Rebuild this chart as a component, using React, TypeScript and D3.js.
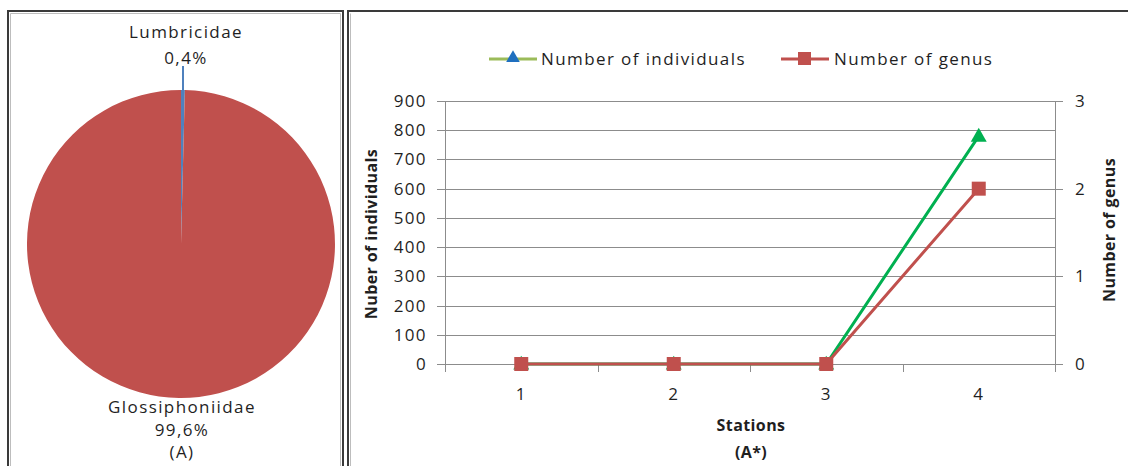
import React from "react";
import * as d3 from "d3";

const pieLabels = ["Glossiphoniidae", "Lumbricidae"];
const pieValues = [99.6, 0.4];
const pieText = ["99,6%", "0,4%"];

const stations = ["1", "2", "3", "4"];
const individuals = [0, 0, 0, 780];
const genus = [0, 0, 0, 2];
const leftTicks = [0, 100, 200, 300, 400, 500, 600, 700, 800, 900];
const rightTicks = [0, 1, 2, 3];

const W = 1128;
const H = 466;
const FONT = "'Open Sans', Lato, sans-serif";
const TXT = "#1f1f1f";
const RED = "#C0504D";
const GREEN = "#00B050";
const BLUE = "#4F81BD";
const FS = 17;
const LS = 1.4;

export default function App() {
  const cx = 181, cy = 244, R = 154;
  const pieGen = d3.pie<number>().sort(null).startAngle(0).endAngle(2 * Math.PI);
  const arcs = pieGen([pieValues[1], pieValues[0]]);
  const arcGen = d3.arc<d3.PieArcDatum<number>>().innerRadius(0).outerRadius(R);

  const x0 = 445, x1 = 1055, yTop = 101, yBot = 364;
  const xBand = d3.scaleBand<string>().domain(stations).range([x0, x1]).padding(0);
  const xc = (s: string) => (xBand(s) as number) + xBand.bandwidth() / 2;
  const yL = d3.scaleLinear().domain([0, 900]).range([yBot, yTop]);
  const yR = d3.scaleLinear().domain([0, 3]).range([yBot, yTop]);
  const lineL = d3.line<number>().x((_, i) => xc(stations[i])).y((d) => yL(d));
  const lineR = d3.line<number>().x((_, i) => xc(stations[i])).y((d) => yR(d));
  const tri = d3.symbol().type(d3.symbolTriangle).size(110)();
  const triLeg = d3.symbol().type(d3.symbolTriangle).size(80)();
  const bounds = [...stations.map((s) => xBand(s) as number), x1];

  return (
    <svg width={W} height={H} style={{ position: "absolute", left: 0, top: 0, background: "#fff" }}
      fontFamily={FONT}>
      <rect width={W} height={H} fill="#fff" />
      <g stroke="#3a3a3a" strokeWidth={2} fill="none">
        <path d={`M8,${H} V11 H343 V${H}`} />
        <path d={`M348,${H} V11 H${W}`} />
      </g>
      <g stroke="#bdbdbd" strokeWidth={1} fill="none">
        <path d={`M10.5,${H} V13.5 H340.5 V${H}`} />
        <path d={`M350.5,${H} V13.5`} />
      </g>

      <g transform={`translate(${cx},${cy})`}>
        {arcs.map((a, i) => (
          <path key={i} d={arcGen(a) as string} fill={i === 0 ? BLUE : RED} />
        ))}
      </g>
      <line x1={183} x2={183} y1={66} y2={cy - R + 2} stroke={BLUE} strokeWidth={2} />
      <g fill={TXT} fontSize={FS} textAnchor="middle" letterSpacing={LS}>
        <text x={186} y={38}>{pieLabels[1]}</text>
        <text x={186} y={64}>{pieText[1]}</text>
        <text x={182} y={413}>{pieLabels[0]}</text>
        <text x={182} y={436}>{pieText[0]}</text>
        <text x={182} y={458}>(A)</text>
      </g>

      <g stroke="#8c8c8c" strokeWidth={1}>
        {leftTicks.map((t) => (
          <line key={t} x1={x0 - 8} x2={x1} y1={Math.round(yL(t)) + 0.5} y2={Math.round(yL(t)) + 0.5} />
        ))}
        {rightTicks.map((t) => (
          <line key={"r" + t} x1={x1} x2={x1 + 8} y1={Math.round(yR(t)) + 0.5} y2={Math.round(yR(t)) + 0.5} />
        ))}
        <line x1={x0 + 0.5} x2={x0 + 0.5} y1={yTop} y2={yBot + 8} />
        <line x1={x1 + 0.5} x2={x1 + 0.5} y1={yTop} y2={yBot + 8} />
        {bounds.map((b, i) => (
          <line key={"b" + i} x1={Math.round(b) + 0.5} x2={Math.round(b) + 0.5} y1={yBot} y2={yBot + 8} />
        ))}
      </g>
      <g fill={TXT} fontSize={FS} letterSpacing={LS}>
        {leftTicks.map((t) => (
          <text key={t} x={x0 - 18} y={yL(t) + 6} textAnchor="end">{t}</text>
        ))}
        {rightTicks.map((t) => (
          <text key={t} x={x1 + 20} y={yR(t) + 6} textAnchor="start">{t}</text>
        ))}
        {stations.map((s) => (
          <text key={s} x={xc(s)} y={400} textAnchor="middle">{s}</text>
        ))}
      </g>
      <g fill={TXT} fontSize={16} fontWeight="bold" textAnchor="middle" letterSpacing={0.4}>
        <text x={751} y={431}>Stations</text>
        <text x={751} y={458}>(A*)</text>
        <text transform={`translate(377,234) rotate(-90)`}>Nuber of individuals</text>
        <text transform={`translate(1115,230) rotate(-90)`}>Number of genus</text>
      </g>

      <path d={lineL(individuals) as string} fill="none" stroke={GREEN} strokeWidth={3} />
      {individuals.map((v, i) => (
        <path key={"t" + i} d={tri as string} transform={`translate(${xc(stations[i])},${yL(v) + 1})`} fill={GREEN} />
      ))}
      <path d={lineR(genus) as string} fill="none" stroke={RED} strokeWidth={3} />
      {genus.map((v, i) => (
        <rect key={"s" + i} x={xc(stations[i]) - 7} y={yR(v) - 7} width={14} height={14} fill={RED} />
      ))}

      <line x1={489} x2={537} y1={59} y2={59} stroke="#9BBB59" strokeWidth={3} />
      <path d={triLeg as string} transform={`translate(513,58)`} fill="#1F6FBF" />
      <text x={541} y={65} fontSize={FS} fill={TXT} letterSpacing={LS}>Number of individuals</text>
      <line x1={781} x2={829} y1={59} y2={59} stroke={RED} strokeWidth={3} />
      <rect x={798} y={52} width={13} height={13} fill={RED} />
      <text x={834} y={65} fontSize={FS} fill={TXT} letterSpacing={LS}>Number of genus</text>
    </svg>
  );
}
